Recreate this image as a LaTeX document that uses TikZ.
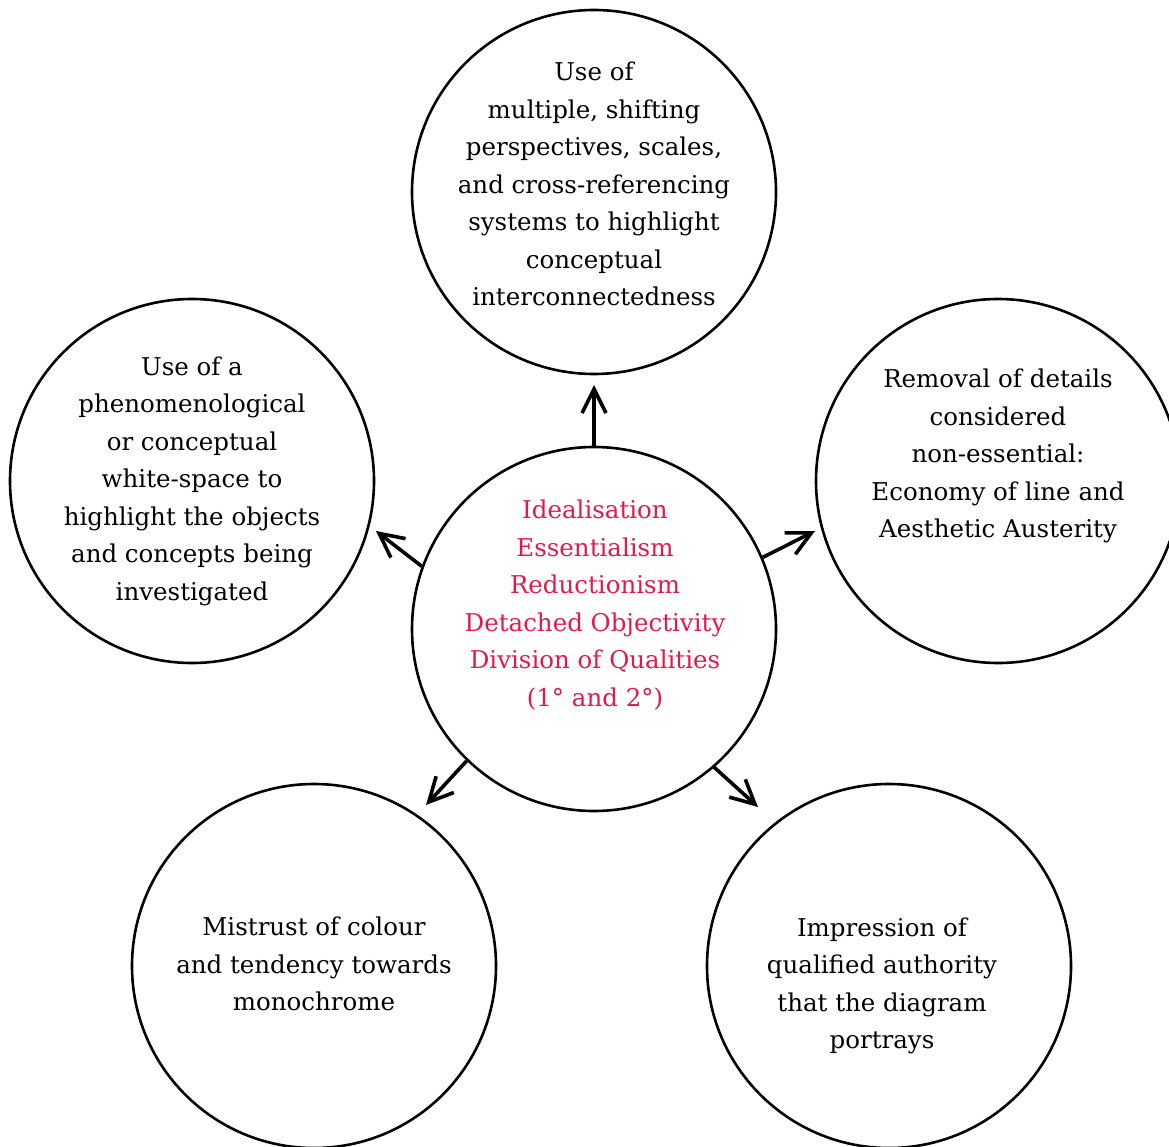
\documentclass[tikz,border=0pt]{standalone}
\usepackage{fontspec}
\setmainfont{DejaVu Serif}
\usetikzlibrary{arrows.meta}
\definecolor{idealred}{HTML}{E3194B}
\tikzset{
  bubble/.style={circle, draw, line width=2.6pt, minimum size=364pt, inner sep=0pt},
  bubbletext/.style={align=center, inner sep=0pt, font=\fontsize{24.5}{37.5}\selectfont},
  push/.style={line width=3.6pt, -{Straight Barb[length=24pt,width=24pt,line width=3.6pt]}}
}
\begin{document}
\begin{tikzpicture}[x=1pt,y=-1pt]
    \useasboundingbox (0,0) rectangle (1169,1147);
    \clip (0,0) rectangle (1169,1147);
    \node[bubble] (hub) at (594,629) {};
    \node[bubble] (top) at (594,192) {};
    \node[bubble] (left) at (192,481) {};
    \node[bubble] (right) at (998,481) {};
    \node[bubble] (botleft) at (314,966) {};
    \node[bubble] (botright) at (889,966) {};
    \node[bubbletext, text=idealred] (hubtext) at (595,605) {Idealisation\\Essentialism\\Reductionism\\Detached Objectivity\\Division of Qualities\\(1° and 2°)};
    \node[bubbletext] (toptext) at (594,184) {Use of\\multiple, shifting\\perspectives, scales,\\and cross-referencing\\systems to highlight\\conceptual\\interconnectedness};
    \node[bubbletext] (lefttext) at (192,481) {Use of a\\phenomenological\\or conceptual\\white-space to\\highlight the objects\\and concepts being\\investigated};
    \node[bubbletext] (righttext) at (998,456) {Removal of details\\considered\\non-essential:\\Economy of line and\\Aesthetic Austerity};
    \node[bubbletext] (botlefttext) at (314,964) {Mistrust of colour\\and tendency towards\\monochrome};
    \node[bubbletext] (botrighttext) at (882,986) {Impression of\\qualified authority\\that the diagram\\portrays};
    \coordinate (tipT) at (594,385);
    \coordinate (tipL) at (376,531);
    \coordinate (tipR) at (815,531);
    \coordinate (tipBL) at (426,805);
    \coordinate (tipBR) at (758,807);
    \draw[push] (hub.90) -- (tipT);
    \draw[push] (hub.160) -- (tipL);
    \draw[push] (hub.23) -- (tipR);
    \draw[push] (hub.226.5) -- (tipBL);
    \draw[push] (hub.311.5) -- (tipBR);
\end{tikzpicture}
\end{document}
